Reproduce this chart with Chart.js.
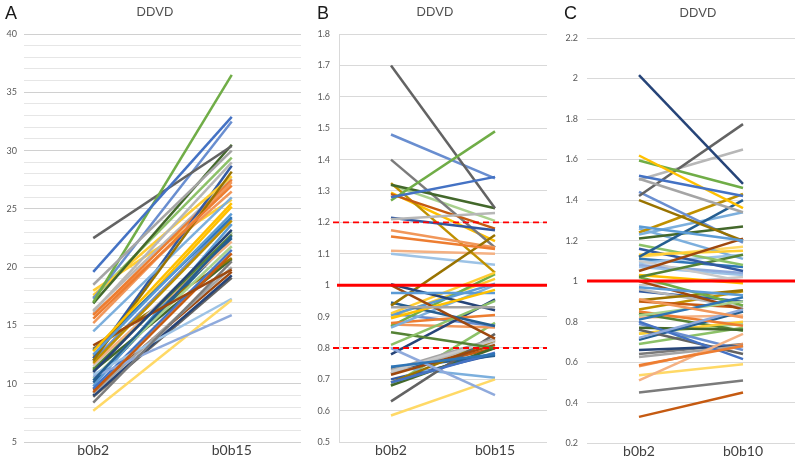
<!DOCTYPE html>
<html><head><meta charset="utf-8">
<script src="https://cdn.jsdelivr.net/npm/chart.js@4.4.1/dist/chart.umd.min.js"></script>
<style>
html,body{margin:0;padding:0;background:#fff;}
#wrap{position:relative;width:800px;height:466px;overflow:hidden;background:#fff;}
canvas{position:absolute;top:0;}
.t{position:absolute;font-family:"Liberation Sans",Arial,sans-serif;color:#505050;font-size:13px;line-height:15px;transform:translateX(-50%);white-space:nowrap;}
.l{position:absolute;font-family:"Liberation Sans",Arial,sans-serif;color:#1a1a1a;font-size:18px;line-height:20px;}
</style></head><body>
<div id="wrap">
<canvas id="cA" width="302" height="466" style="left:0px"></canvas>
<canvas id="cB" width="248" height="466" style="left:302px"></canvas>
<canvas id="cC" width="250" height="466" style="left:550px"></canvas>
<div class="l" style="left:5px;top:3px">A</div>
<div class="t" style="left:155px;top:4px">DDVD</div>
<div class="l" style="left:317px;top:3px">B</div>
<div class="t" style="left:435px;top:4px">DDVD</div>
<div class="l" style="left:564px;top:3px">C</div>
<div class="t" style="left:698px;top:5px">DDVD</div>
</div>
<script>
// ---- data ----
const catsA = ['b0b2', 'b0b15'];
const catsB = ['b0b2', 'b0b15'];
const catsC = ['b0b2', 'b0b10'];

const aStart = [19.6,15.6,18.5,12.8,12.5,17.0,11.0,13.3,22.5,12.0,10.3,16.9,17.3,15.2,16.2,17.6,14.5,17.4,12.2,9.3,8.4,11.8,12.9,11.2,10.6,11.7,11.5,7.7,10.8,10.5,9.6,15.9,9.2,12.4,9.8,11.3,9.0,9.5,8.9,13.0,10.1,11.1,12.0,16.0,16.3,18.0];
const aEnd   = [32.9,27.0,30.0,25.5,24.6,36.5,23.2,19.8,30.4,28.2,22.7,30.5,32.5,27.3,29.0,27.8,26.0,29.4,28.7,21.2,20.5,24.0,24.3,22.8,15.9,22.2,22.9,17.2,17.3,21.8,21.5,27.5,20.0,25.2,23.7,23.0,19.3,19.6,19.1,20.8,22.5,20.7,24.2,26.5,27.6,25.8];

const bStart = [1.28,1.155,0.93,0.895,0.975,1.27,1.003,1.0,1.70,0.935,0.945,1.32,1.48,1.175,1.21,0.91,0.865,0.81,1.215,1.29,1.40,1.325,0.74,0.85,0.80,1.11,0.725,0.585,1.10,1.32,0.69,0.88,0.73,1.295,0.905,0.87,0.78,0.715,0.63,0.69,0.735,0.68,0.91,0.875,0.72,0.90,0.74,0.68,0.70,0.72];
const bEnd   = [1.345,1.115,0.93,0.985,0.975,1.49,0.92,0.83,1.245,1.16,0.87,1.245,1.34,1.12,1.23,1.04,1.0,0.95,1.175,1.18,1.12,1.04,0.78,0.80,0.65,1.10,0.825,0.70,1.065,1.205,0.785,0.905,0.83,1.14,1.005,1.035,0.955,0.81,0.845,0.825,0.775,0.80,0.87,0.865,0.82,1.02,0.705,0.88,0.78,0.80];

const cStart = [1.52,0.585,1.505,1.62,1.27,1.595,2.017,1.05,1.42,1.40,1.12,1.21,1.44,0.91,1.50,1.13,1.23,1.18,1.16,0.33,0.45,1.24,0.81,1.02,0.72,0.51,1.10,0.535,1.09,0.83,0.80,0.85,0.625,1.03,0.97,1.02,0.66,1.00,0.76,0.905,0.71,0.77,0.79,0.58,0.96,0.74,1.26,0.69,0.95,0.90,0.64,0.86,1.11,0.84,1.08,0.82,0.98,1.12,1.07,0.74];
const cEnd   = [1.42,0.68,1.34,1.36,1.20,1.46,1.48,1.21,1.775,1.20,1.40,1.27,1.19,0.82,1.65,1.15,1.34,1.08,1.05,0.45,0.51,1.43,0.92,1.13,0.86,0.74,1.00,0.59,1.13,0.90,0.615,0.78,0.68,0.99,0.93,0.88,0.68,0.86,0.64,0.955,0.85,0.76,0.66,0.69,0.87,0.80,1.11,0.77,0.90,0.87,0.69,0.95,1.07,0.755,1.04,0.83,1.02,1.17,1.03,0.79];

// y-axis ranges / tick steps
const aRange = [5, 40]; const aStep = 1; const aLabelEvery = 5;
const bRange = [0.5, 1.8]; const bStep = 0.1;
const cRange = [0.2, 2.2]; const cStep = 0.2;

// reference lines
const bSolid = [1.0];
const bDashed = [0.8, 1.2];
const cSolid = [1.0];

// ---- styles ----
const palette = ['#4472C4','#ED7D31','#A5A5A5','#FFC000','#5B9BD5','#70AD47',
  '#264478','#9E480E','#636363','#997300','#255E91','#43682B',
  '#698ED0','#F1975A','#B7B7B7','#FFCD33','#7CAFDD','#8CC168',
  '#335AA1','#C55A11','#7B7B7B','#BF9000','#2E75B6','#548235',
  '#8FAADC','#F4B183','#C9C9C9','#FFD966','#9DC3E6','#A9D18E'];

const refPlugin = {
  id: 'refLines',
  afterDatasetsDraw(chart, args, opts) {
    const {ctx, chartArea} = chart; const y = chart.scales.y;
    (opts.lines || []).forEach(r => {
      const py = y.getPixelForValue(r.v);
      ctx.save();
      ctx.strokeStyle = '#FF0000';
      ctx.lineWidth = r.w;
      ctx.setLineDash(r.dash || []);
      ctx.beginPath();
      ctx.moveTo(chartArea.left - (r.ext || 0), py);
      ctx.lineTo(chartArea.right, py);
      ctx.stroke();
      ctx.restore();
    });
  }
};

function makeChart(id, cats, starts, ends, range, step, opt) {
  const datasets = starts.map((s, i) => ({
    data: [s, ends[i]],
    borderColor: palette[i % palette.length],
    backgroundColor: palette[i % palette.length],
    borderWidth: 2.5,
    pointRadius: 0,
    tension: 0,
    fill: false
  }));
  return new Chart(document.getElementById(id), {
    type: 'line',
    data: { labels: cats, datasets },
    options: {
      responsive: false,
      animation: false,
      events: [],
      layout: { padding: { top: opt.top, bottom: opt.bottom, left: 0, right: opt.right } },
      plugins: { legend: { display: false }, tooltip: { enabled: false }, title: { display: false },
        refLines: { lines: opt.lines || [] } },
      scales: {
        x: {
          type: 'category', offset: true,
          grid: { display: false, drawTicks: false },
          border: { display: false },
          ticks: { padding: opt.xpad, color: '#404040', font: { family: 'Lato, "Liberation Sans", sans-serif', size: 14 }, maxRotation: 0, autoSkip: false }
        },
        y: {
          min: range[0], max: range[1],
          afterFit(scale) { scale.width = opt.axisW; },
          grid: { drawTicks: false, color: opt.gridColor || '#D9D9D9', lineWidth: 1 },
          border: { display: !!opt.border, color: '#D9D9D9', width: 1 },
          ticks: {
            stepSize: step, padding: opt.tpad, color: '#595959', autoSkip: false,
            font: { family: 'Lato, "Liberation Sans", sans-serif', size: 9 },
            callback: opt.cb || (v => String(Math.round(v * 10) / 10))
          }
        }
      }
    },
    plugins: [refPlugin]
  });
}

makeChart('cA', catsA, aStart, aEnd, aRange, aStep, {
  top: 34, bottom: 7, right: 1, axisW: 24, tpad: 7, xpad: 0,
  gridColor: ctx => (ctx.tick && Math.round(ctx.tick.value) % aLabelEvery === 0) ? '#D0D0D0' : '#E6E6E6',
  cb: v => (Math.round(v) % aLabelEvery === 0 ? String(Math.round(v)) : '')
});
makeChart('cB', catsB, bStart, bEnd, bRange, bStep, {
  top: 34, bottom: 7, right: 3, axisW: 37, tpad: 9, xpad: 0, border: true,
  lines: [...bSolid.map(v => ({v, w: 3, ext: 2})), ...bDashed.map(v => ({v, w: 1.8, dash: [6, 4], ext: 6}))]
});
makeChart('cC', catsC, cStart, cEnd, cRange, cStep, {
  top: 38, bottom: 6, right: 5, axisW: 37, tpad: 9, xpad: 0,
  lines: cSolid.map(v => ({v, w: 3}))
});
</script>
</body></html>
